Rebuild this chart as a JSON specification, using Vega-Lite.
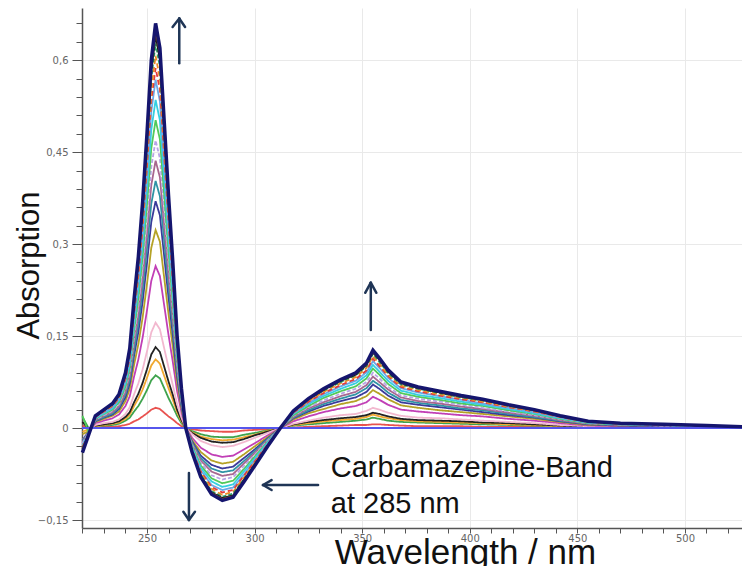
{
"$schema": "https://vega.github.io/schema/vega-lite/v6.json",
"width": 660, "height": 520,
"autosize": {"type": "none"},
"padding": {"left": 82, "top": 8, "right": 0, "bottom": 38},
"background": "white",
"config": {"view": {"stroke": null}, "font": "Liberation Sans"},
"datasets": {
"spectra": [
{"w":220,"a":0.004,"b":0.018,"c":-0.006,"d":0.01,"e":-0.02,"f":-0.025,"g":-0.01,"h":-0.02,"i":-0.021,"j":-0.023,"k":-0.025,"l":0.02,"m":-0.028,"n":-0.03,"o":-0.031,"p":-0.032,"q":-0.033,"r":-0.034,"s":-0.034,"t":-0.04},
{"w":223,"a":0,"b":-0.001,"c":-0.002,"d":-0.002,"e":-0.003,"f":-0.004,"g":-0.005,"h":-0.006,"i":-0.006,"j":-0.007,"k":-0.007,"l":-0.008,"m":-0.008,"n":-0.009,"o":-0.009,"p":-0.009,"q":-0.01,"r":-0.01,"s":-0.01,"t":-0.01},
{"w":226,"a":0.001,"b":0.003,"c":0.003,"d":0.004,"e":0.005,"f":0.008,"g":0.01,"h":0.011,"i":0.012,"j":0.013,"k":0.014,"l":0.015,"m":0.016,"n":0.017,"o":0.018,"p":0.018,"q":0.019,"r":0.019,"s":0.02,"t":0.02},
{"w":230,"a":0.002,"b":0.004,"c":0.005,"d":0.006,"e":0.008,"f":0.012,"g":0.015,"h":0.017,"i":0.018,"j":0.02,"k":0.021,"l":0.023,"m":0.024,"n":0.026,"o":0.027,"p":0.028,"q":0.029,"r":0.029,"s":0.03,"t":0.03},
{"w":234,"a":0.002,"b":0.005,"c":0.007,"d":0.008,"e":0.01,"f":0.016,"g":0.02,"h":0.022,"i":0.024,"j":0.026,"k":0.028,"l":0.03,"m":0.032,"n":0.034,"o":0.036,"p":0.037,"q":0.038,"r":0.039,"s":0.039,"t":0.04},
{"w":237,"a":0.003,"b":0.007,"c":0.009,"d":0.011,"e":0.014,"f":0.022,"g":0.027,"h":0.031,"i":0.034,"j":0.036,"k":0.039,"l":0.042,"m":0.045,"n":0.047,"o":0.049,"p":0.051,"q":0.052,"r":0.053,"s":0.054,"t":0.055},
{"w":240,"a":0.005,"b":0.012,"c":0.015,"d":0.018,"e":0.023,"f":0.036,"g":0.044,"h":0.05,"i":0.055,"j":0.059,"k":0.064,"l":0.068,"m":0.073,"n":0.077,"o":0.08,"p":0.083,"q":0.086,"r":0.087,"s":0.089,"t":0.09},
{"w":242,"a":0.007,"b":0.017,"c":0.022,"d":0.026,"e":0.034,"f":0.052,"g":0.064,"h":0.073,"i":0.079,"j":0.086,"k":0.092,"l":0.099,"m":0.105,"n":0.112,"o":0.116,"p":0.12,"q":0.124,"r":0.126,"s":0.128,"t":0.13},
{"w":244,"a":0.011,"b":0.027,"c":0.036,"d":0.042,"e":0.055,"f":0.084,"g":0.103,"h":0.118,"i":0.128,"j":0.139,"k":0.149,"l":0.16,"m":0.17,"n":0.181,"o":0.187,"p":0.193,"q":0.2,"r":0.204,"s":0.207,"t":0.21},
{"w":246,"a":0.014,"b":0.036,"c":0.048,"d":0.056,"e":0.073,"f":0.112,"g":0.137,"h":0.157,"i":0.171,"j":0.185,"k":0.199,"l":0.213,"m":0.227,"n":0.241,"o":0.249,"p":0.258,"q":0.266,"r":0.272,"s":0.276,"t":0.28},
{"w":248,"a":0.019,"b":0.048,"c":0.063,"d":0.074,"e":0.096,"f":0.148,"g":0.181,"h":0.207,"i":0.226,"j":0.244,"k":0.263,"l":0.281,"m":0.3,"n":0.318,"o":0.329,"p":0.34,"q":0.352,"r":0.359,"s":0.364,"t":0.37},
{"w":250,"a":0.024,"b":0.062,"c":0.082,"d":0.096,"e":0.125,"f":0.192,"g":0.235,"h":0.269,"i":0.293,"j":0.317,"k":0.341,"l":0.365,"m":0.389,"n":0.413,"o":0.427,"p":0.442,"q":0.456,"r":0.466,"s":0.473,"t":0.48},
{"w":252,"a":0.03,"b":0.078,"c":0.102,"d":0.12,"e":0.156,"f":0.24,"g":0.294,"h":0.336,"i":0.366,"j":0.396,"k":0.426,"l":0.456,"m":0.486,"n":0.516,"o":0.534,"p":0.552,"q":0.57,"r":0.582,"s":0.591,"t":0.6},
{"w":254,"a":0.033,"b":0.086,"c":0.112,"d":0.132,"e":0.172,"f":0.264,"g":0.323,"h":0.37,"i":0.403,"j":0.436,"k":0.469,"l":0.502,"m":0.535,"n":0.568,"o":0.587,"p":0.607,"q":0.627,"r":0.64,"s":0.65,"t":0.66},
{"w":256,"a":0.031,"b":0.081,"c":0.105,"d":0.124,"e":0.161,"f":0.248,"g":0.304,"h":0.347,"i":0.378,"j":0.409,"k":0.44,"l":0.471,"m":0.502,"n":0.533,"o":0.552,"p":0.57,"q":0.589,"r":0.601,"s":0.611,"t":0.62},
{"w":258,"a":0.025,"b":0.065,"c":0.085,"d":0.1,"e":0.13,"f":0.2,"g":0.245,"h":0.28,"i":0.305,"j":0.33,"k":0.355,"l":0.38,"m":0.405,"n":0.43,"o":0.445,"p":0.46,"q":0.475,"r":0.485,"s":0.493,"t":0.5},
{"w":260,"a":0.019,"b":0.049,"c":0.065,"d":0.076,"e":0.099,"f":0.152,"g":0.186,"h":0.213,"i":0.232,"j":0.251,"k":0.27,"l":0.289,"m":0.308,"n":0.327,"o":0.338,"p":0.35,"q":0.361,"r":0.369,"s":0.374,"t":0.38},
{"w":262,"a":0.014,"b":0.035,"c":0.046,"d":0.054,"e":0.07,"f":0.108,"g":0.132,"h":0.151,"i":0.165,"j":0.178,"k":0.192,"l":0.205,"m":0.219,"n":0.232,"o":0.24,"p":0.248,"q":0.257,"r":0.262,"s":0.266,"t":0.27},
{"w":264,"a":0.008,"b":0.02,"c":0.026,"d":0.03,"e":0.039,"f":0.06,"g":0.074,"h":0.084,"i":0.092,"j":0.099,"k":0.107,"l":0.114,"m":0.122,"n":0.129,"o":0.134,"p":0.138,"q":0.143,"r":0.146,"s":0.148,"t":0.15},
{"w":266,"a":0.003,"b":0.008,"c":0.011,"d":0.013,"e":0.017,"f":0.026,"g":0.032,"h":0.036,"i":0.04,"j":0.043,"k":0.046,"l":0.049,"m":0.053,"n":0.056,"o":0.058,"p":0.06,"q":0.062,"r":0.063,"s":0.064,"t":0.065},
{"w":268,"a":0,"b":0,"c":0,"d":0,"e":0,"f":0,"g":0,"h":0,"i":0,"j":0,"k":0,"l":0,"m":0,"n":0,"o":0,"p":0,"q":0,"r":0,"s":0,"t":0},
{"w":271,"a":-0.002,"b":-0.005,"c":-0.007,"d":-0.008,"e":-0.01,"f":-0.016,"g":-0.02,"h":-0.022,"i":-0.024,"j":-0.026,"k":-0.028,"l":-0.03,"m":-0.032,"n":-0.034,"o":-0.036,"p":-0.037,"q":-0.038,"r":-0.039,"s":-0.039,"t":-0.04},
{"w":275,"a":-0.004,"b":-0.01,"c":-0.014,"d":-0.016,"e":-0.021,"f":-0.032,"g":-0.039,"h":-0.045,"i":-0.049,"j":-0.053,"k":-0.057,"l":-0.061,"m":-0.065,"n":-0.069,"o":-0.071,"p":-0.074,"q":-0.076,"r":-0.078,"s":-0.079,"t":-0.08},
{"w":280,"a":-0.005,"b":-0.014,"c":-0.018,"d":-0.022,"e":-0.028,"f":-0.043,"g":-0.053,"h":-0.06,"i":-0.066,"j":-0.071,"k":-0.077,"l":-0.082,"m":-0.087,"n":-0.093,"o":-0.096,"p":-0.099,"q":-0.103,"r":-0.105,"s":-0.106,"t":-0.108},
{"w":285,"a":-0.006,"b":-0.015,"c":-0.02,"d":-0.024,"e":-0.031,"f":-0.047,"g":-0.058,"h":-0.066,"i":-0.072,"j":-0.078,"k":-0.084,"l":-0.09,"m":-0.096,"n":-0.101,"o":-0.105,"p":-0.109,"q":-0.112,"r":-0.114,"s":-0.116,"t":-0.118},
{"w":290,"a":-0.006,"b":-0.015,"c":-0.019,"d":-0.023,"e":-0.029,"f":-0.045,"g":-0.055,"h":-0.063,"i":-0.069,"j":-0.075,"k":-0.08,"l":-0.086,"m":-0.092,"n":-0.097,"o":-0.101,"p":-0.104,"q":-0.107,"r":-0.11,"s":-0.111,"t":-0.113},
{"w":295,"a":-0.004,"b":-0.011,"c":-0.015,"d":-0.018,"e":-0.023,"f":-0.035,"g":-0.043,"h":-0.049,"i":-0.054,"j":-0.058,"k":-0.062,"l":-0.067,"m":-0.071,"n":-0.076,"o":-0.078,"p":-0.081,"q":-0.084,"r":-0.085,"s":-0.087,"t":-0.088},
{"w":300,"a":-0.003,"b":-0.008,"c":-0.011,"d":-0.012,"e":-0.016,"f":-0.025,"g":-0.03,"h":-0.035,"i":-0.038,"j":-0.041,"k":-0.044,"l":-0.047,"m":-0.05,"n":-0.053,"o":-0.055,"p":-0.057,"q":-0.059,"r":-0.06,"s":-0.061,"t":-0.062},
{"w":306,"a":-0.002,"b":-0.004,"c":-0.005,"d":-0.006,"e":-0.008,"f":-0.012,"g":-0.015,"h":-0.017,"i":-0.018,"j":-0.02,"k":-0.021,"l":-0.023,"m":-0.024,"n":-0.026,"o":-0.027,"p":-0.028,"q":-0.029,"r":-0.029,"s":-0.03,"t":-0.03},
{"w":312,"a":0,"b":0,"c":0,"d":0,"e":0,"f":0,"g":0,"h":0,"i":0,"j":0,"k":0,"l":0,"m":0,"n":0,"o":0,"p":0,"q":0,"r":0,"s":0,"t":0},
{"w":318,"a":0.001,"b":0.004,"c":0.005,"d":0.006,"e":0.007,"f":0.011,"g":0.014,"h":0.016,"i":0.017,"j":0.018,"k":0.02,"l":0.021,"m":0.023,"n":0.024,"o":0.025,"p":0.026,"q":0.027,"r":0.027,"s":0.028,"t":0.028},
{"w":325,"a":0.002,"b":0.006,"c":0.008,"d":0.01,"e":0.012,"f":0.019,"g":0.024,"h":0.027,"i":0.029,"j":0.032,"k":0.034,"l":0.036,"m":0.039,"n":0.041,"o":0.043,"p":0.044,"q":0.046,"r":0.047,"s":0.047,"t":0.048},
{"w":332,"a":0.003,"b":0.008,"c":0.011,"d":0.013,"e":0.017,"f":0.026,"g":0.031,"h":0.036,"i":0.039,"j":0.042,"k":0.045,"l":0.049,"m":0.052,"n":0.055,"o":0.057,"p":0.059,"q":0.061,"r":0.062,"s":0.063,"t":0.064},
{"w":340,"a":0.004,"b":0.01,"c":0.013,"d":0.016,"e":0.021,"f":0.032,"g":0.039,"h":0.044,"i":0.048,"j":0.052,"k":0.056,"l":0.06,"m":0.064,"n":0.068,"o":0.07,"p":0.073,"q":0.075,"r":0.077,"s":0.078,"t":0.079},
{"w":347,"a":0.005,"b":0.012,"c":0.015,"d":0.018,"e":0.023,"f":0.036,"g":0.044,"h":0.05,"i":0.055,"j":0.059,"k":0.064,"l":0.068,"m":0.073,"n":0.077,"o":0.08,"p":0.083,"q":0.086,"r":0.087,"s":0.089,"t":0.09},
{"w":352,"a":0.005,"b":0.014,"c":0.018,"d":0.021,"e":0.028,"f":0.042,"g":0.052,"h":0.059,"i":0.065,"j":0.07,"k":0.075,"l":0.081,"m":0.086,"n":0.091,"o":0.094,"p":0.098,"q":0.101,"r":0.103,"s":0.104,"t":0.106},
{"w":355,"a":0.006,"b":0.017,"c":0.022,"d":0.025,"e":0.033,"f":0.051,"g":0.062,"h":0.071,"i":0.077,"j":0.084,"k":0.09,"l":0.097,"m":0.103,"n":0.109,"o":0.113,"p":0.117,"q":0.121,"r":0.123,"s":0.125,"t":0.127},
{"w":358,"a":0.006,"b":0.015,"c":0.019,"d":0.023,"e":0.03,"f":0.046,"g":0.056,"h":0.064,"i":0.07,"j":0.075,"k":0.081,"l":0.087,"m":0.092,"n":0.098,"o":0.101,"p":0.105,"q":0.108,"r":0.111,"s":0.112,"t":0.114},
{"w":362,"a":0.005,"b":0.012,"c":0.016,"d":0.019,"e":0.025,"f":0.038,"g":0.047,"h":0.053,"i":0.058,"j":0.063,"k":0.067,"l":0.072,"m":0.077,"n":0.082,"o":0.085,"p":0.087,"q":0.09,"r":0.092,"s":0.094,"t":0.095},
{"w":368,"a":0.004,"b":0.01,"c":0.013,"d":0.015,"e":0.02,"f":0.03,"g":0.037,"h":0.042,"i":0.046,"j":0.05,"k":0.053,"l":0.057,"m":0.061,"n":0.065,"o":0.067,"p":0.069,"q":0.071,"r":0.073,"s":0.074,"t":0.075},
{"w":376,"a":0.003,"b":0.009,"c":0.011,"d":0.013,"e":0.017,"f":0.027,"g":0.033,"h":0.038,"i":0.041,"j":0.044,"k":0.048,"l":0.051,"m":0.054,"n":0.058,"o":0.06,"p":0.062,"q":0.064,"r":0.065,"s":0.066,"t":0.067},
{"w":386,"a":0.003,"b":0.008,"c":0.01,"d":0.012,"e":0.016,"f":0.024,"g":0.029,"h":0.034,"i":0.037,"j":0.04,"k":0.043,"l":0.046,"m":0.049,"n":0.052,"o":0.053,"p":0.055,"q":0.057,"r":0.058,"s":0.059,"t":0.06},
{"w":396,"a":0.003,"b":0.007,"c":0.009,"d":0.011,"e":0.014,"f":0.021,"g":0.026,"h":0.03,"i":0.032,"j":0.035,"k":0.038,"l":0.04,"m":0.043,"n":0.046,"o":0.047,"p":0.049,"q":0.05,"r":0.051,"s":0.052,"t":0.053},
{"w":406,"a":0.002,"b":0.006,"c":0.008,"d":0.009,"e":0.012,"f":0.019,"g":0.023,"h":0.026,"i":0.029,"j":0.031,"k":0.033,"l":0.036,"m":0.038,"n":0.04,"o":0.042,"p":0.043,"q":0.045,"r":0.046,"s":0.046,"t":0.047},
{"w":418,"a":0.002,"b":0.005,"c":0.006,"d":0.008,"e":0.01,"f":0.015,"g":0.019,"h":0.021,"i":0.023,"j":0.025,"k":0.027,"l":0.029,"m":0.031,"n":0.033,"o":0.034,"p":0.035,"q":0.036,"r":0.037,"s":0.037,"t":0.038},
{"w":430,"a":0.002,"b":0.004,"c":0.005,"d":0.006,"e":0.008,"f":0.012,"g":0.015,"h":0.017,"i":0.018,"j":0.02,"k":0.021,"l":0.023,"m":0.024,"n":0.026,"o":0.027,"p":0.028,"q":0.029,"r":0.029,"s":0.03,"t":0.03},
{"w":442,"a":0.001,"b":0.003,"c":0.003,"d":0.004,"e":0.005,"f":0.008,"g":0.01,"h":0.011,"i":0.012,"j":0.013,"k":0.014,"l":0.015,"m":0.016,"n":0.017,"o":0.018,"p":0.018,"q":0.019,"r":0.019,"s":0.02,"t":0.02},
{"w":455,"a":0.001,"b":0.001,"c":0.002,"d":0.002,"e":0.003,"f":0.004,"g":0.005,"h":0.006,"i":0.007,"j":0.007,"k":0.008,"l":0.008,"m":0.009,"n":0.009,"o":0.01,"p":0.01,"q":0.01,"r":0.011,"s":0.011,"t":0.011},
{"w":470,"a":0,"b":0.001,"c":0.001,"d":0.002,"e":0.002,"f":0.003,"g":0.004,"h":0.004,"i":0.005,"j":0.005,"k":0.006,"l":0.006,"m":0.006,"n":0.007,"o":0.007,"p":0.007,"q":0.008,"r":0.008,"s":0.008,"t":0.008},
{"w":490,"a":0,"b":0.001,"c":0.001,"d":0.001,"e":0.002,"f":0.002,"g":0.003,"h":0.003,"i":0.004,"j":0.004,"k":0.004,"l":0.005,"m":0.005,"n":0.005,"o":0.005,"p":0.006,"q":0.006,"r":0.006,"s":0.006,"t":0.006},
{"w":510,"a":0,"b":0.001,"c":0.001,"d":0.001,"e":0.001,"f":0.002,"g":0.002,"h":0.002,"i":0.002,"j":0.003,"k":0.003,"l":0.003,"m":0.003,"n":0.003,"o":0.004,"p":0.004,"q":0.004,"r":0.004,"s":0.004,"t":0.004},
{"w":526.5,"a":0,"b":0,"c":0,"d":0,"e":0.001,"f":0.001,"g":0.001,"h":0.001,"i":0.001,"j":0.001,"k":0.001,"l":0.002,"m":0.002,"n":0.002,"o":0.002,"p":0.002,"q":0.002,"r":0.002,"s":0.002,"t":0.002}
],
"baseline": [{"w":219.8,"v":0},{"w":526.5,"v":0}],
"arrows": [
{"x":265.0,"y":0.595,"x2":265.0,"y2":0.668},
{"x":261.9,"y":0.654,"x2":265.0,"y2":0.668},
{"x":267.7,"y":0.654,"x2":265.0,"y2":0.668},
{"x":269.5,"y":-0.0734,"x2":269.5,"y2":-0.150},
{"x":266.9,"y":-0.1365,"x2":269.5,"y2":-0.150},
{"x":272.3,"y":-0.1365,"x2":269.5,"y2":-0.150},
{"x":354.0,"y":0.160,"x2":354.0,"y2":0.237},
{"x":351.4,"y":0.2206,"x2":354.0,"y2":0.237},
{"x":356.6,"y":0.2206,"x2":354.0,"y2":0.237},
{"x":329.5,"y":-0.0929,"x2":303.9,"y2":-0.0929},
{"x":307.9,"y":-0.0848,"x2":303.9,"y2":-0.0929},
{"x":307.9,"y":-0.1011,"x2":303.9,"y2":-0.0929}
],
"labels": [
{"w":335.4,"v":-0.0794,"t":"Carbamazepine-Band"},
{"w":335.4,"v":-0.1386,"t":"at 285 nm"}
]
},
"layer": [
{
"data": {"name": "spectra"},
"transform": [{"fold": ["a","b","c","d","e","f","g","h","i","j","k","l","m","n","o","p","q","r","s"], "as": ["series","value"]}],
"mark": {"type": "line", "strokeWidth": 1.8},
"encoding": {
"x": {"field": "w", "type": "quantitative",
"scale": {"domain": [219.8, 526.5], "nice": false, "zero": false},
"axis": {"values": [250,300,350,400,450,500], "grid": true, "gridColor": "#e9e9e9", "domainColor": "#555555", "domainWidth": 1.5, "tickColor": "#555555", "tickSize": 5, "labelFont": "DejaVu Sans", "labelFontSize": 10, "labelColor": "#666666", "labelPadding": 0,
"title": "Wavelength / nm", "titleFont": "Liberation Sans", "titleFontSize": 35, "titleFontWeight": "normal", "titleColor": "#111111", "titleX": 383, "titleY": 35, "titleBaseline": "alphabetic", "titleAlign": "center"}},
"y": {"field": "value", "type": "quantitative",
"scale": {"domain": [-0.163, 0.685], "nice": false, "zero": false},
"axis": {"values": [-0.15,0,0.15,0.3,0.45,0.6], "labelExpr": "replace(format(datum.value, '.2~f'), '.', ',')", "grid": true, "gridColor": "#e9e9e9", "domainColor": "#555555", "domainWidth": 1.5, "tickColor": "#555555", "tickSize": 10, "labelFont": "DejaVu Sans", "labelFontSize": 10, "labelColor": "#666666", "labelPadding": 4,
"title": "Absorption", "titleFont": "Liberation Sans", "titleFontSize": 31, "titleFontWeight": "normal", "titleColor": "#111111", "titleX": -44, "titleY": 257, "titleAngle": -90, "titleBaseline": "alphabetic", "titleAlign": "center"}},
"color": {"field": "series", "type": "nominal", "legend": null,
"scale": {"domain": ["a","b","c","d","e","f","g","h","i","j","k","l","m","n","o","p","q","r","s"],
"range": ["#e8524f","#3fa34d","#f0a830","#222222","#f2b8cf","#c13fb6","#b5a227","#3b3b9a","#2f93a5","#a8678f","#b7a3e6","#52c95a","#35cfe0","#6aa8e8","#e33b3b","#f08a24","#2f9e6a","#1b1b1b","#9b5a2a"]}},
"strokeDash": {"field": "series", "type": "nominal", "legend": null,
"scale": {"domain": ["a","b","c","d","e","f","g","h","i","j","k","l","m","n","o","p","q","r","s"],
"range": [[1,0],[1,0],[1,0],[1,0],[1,0],[1,0],[1,0],[1,0],[1,0],[1,0],[4,2],[1,0],[1,0],[1,0],[5,3],[5,3],[4,2],[1,0],[1,0]]}}
}
},
{
"data": {"name": "baseline"},
"mark": {"type": "line", "color": "#5656ec", "strokeWidth": 2},
"encoding": {
"x": {"field": "w", "type": "quantitative", "scale": {"domain": [219.8, 526.5], "nice": false, "zero": false},
"axis": {"values": [220,230,240,260,270,280,290,310,320,330,340,360,370,380,390,410,420,430,440,460,470,480,490,510,520], "orient": "bottom", "labels": false, "grid": false, "domain": false, "tickColor": "#555555", "tickSize": 5, "title": null}},
"y": {"field": "v", "type": "quantitative", "scale": {"domain": [-0.163, 0.685], "nice": false, "zero": false},
"axis": {"values": [-0.12,-0.09,-0.06,-0.03,0.03,0.06,0.09,0.12,0.18,0.21,0.24,0.27,0.33,0.36,0.39,0.42,0.48,0.51,0.54,0.57,0.63,0.66], "orient": "left", "labels": false, "grid": false, "domain": false, "tickColor": "#555555", "tickSize": 6, "title": null}}
}
},
{
"data": {"name": "spectra"},
"mark": {"type": "line", "color": "#15156e", "strokeWidth": 3.5},
"encoding": {
"x": {"field": "w", "type": "quantitative", "scale": {"domain": [219.8, 526.5], "nice": false, "zero": false}, "axis": null},
"y": {"field": "t", "type": "quantitative", "scale": {"domain": [-0.163, 0.685], "nice": false, "zero": false}, "axis": null}
}
},
{
"data": {"name": "arrows"},
"mark": {"type": "rule", "color": "#1f3556", "strokeWidth": 2.5, "strokeCap": "round"},
"encoding": {
"x": {"field": "x", "type": "quantitative", "scale": {"domain": [219.8, 526.5], "nice": false, "zero": false}, "axis": null},
"y": {"field": "y", "type": "quantitative", "scale": {"domain": [-0.163, 0.685], "nice": false, "zero": false}, "axis": null},
"x2": {"field": "x2"},
"y2": {"field": "y2"}
}
},
{
"data": {"name": "labels"},
"mark": {"type": "text", "align": "left", "baseline": "alphabetic", "font": "Liberation Sans", "fontSize": 29, "color": "#111111"},
"encoding": {
"x": {"field": "w", "type": "quantitative", "scale": {"domain": [219.8, 526.5], "nice": false, "zero": false}, "axis": null},
"y": {"field": "v", "type": "quantitative", "scale": {"domain": [-0.163, 0.685], "nice": false, "zero": false}, "axis": null},
"text": {"field": "t"}
}
}
],
"resolve": {"axis": {"x": "independent", "y": "independent"}}
}
